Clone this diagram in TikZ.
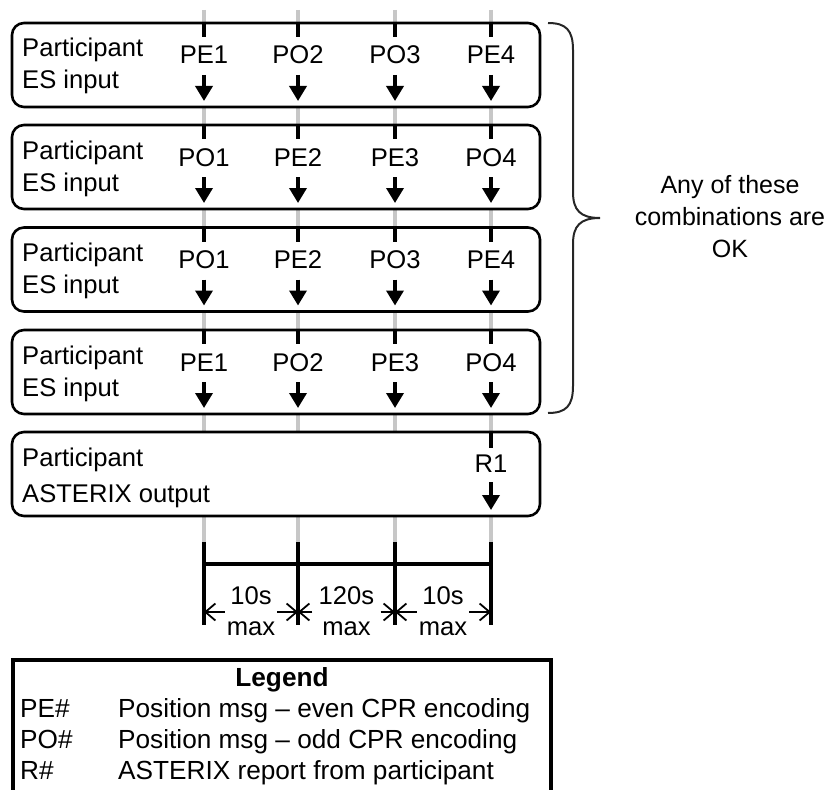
\documentclass[tikz,border=0pt]{standalone}
\usepackage{fontspec}
\setmainfont{Liberation Sans}
\usetikzlibrary{arrows.meta}
\begin{document}
\begin{tikzpicture}[x=1pt,y=-1pt,
  lane/.style={draw=black!22, line width=4pt},
  rowbox/.style={draw=black, line width=2.6pt, rounded corners=12pt, fill=white},
  txt/.style={font=\fontsize{25.6}{30}\selectfont, inner sep=0pt, anchor=base west},
  msg/.style={font=\fontsize{25.6}{30}\selectfont, inner sep=0pt, anchor=base},
  legtxt/.style={font=\fontsize{26.2}{30}\selectfont, inner sep=0pt, anchor=base west},
  notetxt/.style={font=\fontsize{25}{30}\selectfont, inner sep=0pt, anchor=base},
  msgtick/.style={line width=3.5pt},
  msgarrow/.style={line width=3.5pt, -{Triangle[length=15pt,width=17pt]}},
  dimtick/.style={line width=4pt},
  dimarrow/.style={line width=1.8pt, -{Straight Barb[length=10pt,width=17pt]}},
  gap/.style={inner sep=0pt, minimum height=2pt},
  legendbox/.style={draw=black, line width=4pt},
  bracestyle/.style={draw=black!85, line width=2pt},
]
\useasboundingbox (0,0) rectangle (829,789);
\clip (0,0) rectangle (829,789);

% time lanes behind the boxes
\foreach \x [count=\j] in {204,298,395,491} {
  \coordinate (lanetop-\j) at (\x,10);
  \coordinate (lanebot-\j) at (\x,542);
  \draw[lane] (lanetop-\j) -- (lanebot-\j);
}

% participant ES input rows
\foreach \t/\a/\b/\c/\d [count=\i] in
  {23/PE1/PO2/PO3/PE4, 125/PO1/PE2/PE3/PO4, 227.5/PO1/PE2/PO3/PE4, 330/PE1/PO2/PE3/PO4} {
  \draw[rowbox] (12,\t) rectangle (540,\t+84);
  \node[txt] (part-\i) at (22,\t+34) {Participant};
  \node[txt] (kind-\i) at (22,\t+66) {ES input};
  \foreach \x/\lab [count=\j] in {204/\a, 298/\b, 395/\c, 491/\d} {
    \coordinate (ts-\i-\j) at (\x,\t);
    \coordinate (te-\i-\j) at (\x,\t+14);
    \coordinate (as-\i-\j) at (\x,\t+52);
    \coordinate (ae-\i-\j) at (\x,\t+78);
    \node[msg] (msg-\i-\j) at (\x,\t+41) {\lab};
    \draw[msgtick] (ts-\i-\j) -- (te-\i-\j);
    \draw[msgarrow] (as-\i-\j) -- (ae-\i-\j);
  }
}

% participant ASTERIX output row
\draw[rowbox] (12,432) rectangle (540,516);
\node[txt] (part-5) at (22,466) {Participant};
\node[txt] (kind-5) at (22,502) {ASTERIX output};
\coordinate (ts-5) at (491,432);
\coordinate (te-5) at (491,448);
\coordinate (as-5) at (491,482);
\coordinate (ae-5) at (491,510);
\node[msg] (msg-5) at (491,472) {R1};
\draw[msgtick] (ts-5) -- (te-5);
\draw[msgarrow] (as-5) -- (ae-5);

% brace and its note
\draw[bracestyle] (548,23) .. controls (566,23) and (573,30) .. (573,50)
  -- (573,192) .. controls (573,210) and (580,218) .. (600,218)
  .. controls (580,218) and (573,226) .. (573,244)
  -- (573,386) .. controls (573,406) and (566,413) .. (548,413);
\node[notetxt] (note1) at (730,193) {Any of these};
\node[notetxt] (note2) at (730,225) {combinations are};
\node[notetxt] (note3) at (730,257) {OK};

% timing scale
\foreach \x [count=\j] in {204,298,395,491} {
  \coordinate (tk-\j) at (\x,542);
  \coordinate (tb-\j) at (\x,625);
  \coordinate (ta-\j) at (\x,612);
  \draw[dimtick] (tk-\j) -- (tb-\j);
}
\coordinate (bar-l) at (202,564);
\coordinate (bar-r) at (493,564);
\draw[dimtick] (bar-l) -- (bar-r);

\foreach \m/\w/\top [count=\k] in {251/52/10s, 346.5/68/120s, 443/52/10s} {
  \node[gap, minimum width=\w pt] (g-\k) at (\m,612) {};
  \node[msg] (dt-\k) at (\m,604) {\top};
  \node[msg] (dm-\k) at (\m,635) {max};
}
\draw[dimarrow] (g-1.west) -- (ta-1);
\draw[dimarrow] (g-1.east) -- (ta-2);
\draw[dimarrow] (g-2.west) -- (ta-2);
\draw[dimarrow] (g-2.east) -- (ta-3);
\draw[dimarrow] (g-3.west) -- (ta-3);
\draw[dimarrow] (g-3.east) -- (ta-4);

% legend
\draw[legendbox] (13,800) -- (13,660) -- (551,660) -- (551,800);
\node[msg, font=\fontsize{26.2}{30}\selectfont\bfseries] (legend) at (282,686) {Legend};
\node[legtxt] (k1) at (20,717) {PE\#};
\node[legtxt] (v1) at (118,717) {Position msg – even CPR encoding};
\node[legtxt] (k2) at (20,748) {PO\#};
\node[legtxt] (v2) at (118,748) {Position msg – odd CPR encoding};
\node[legtxt] (k3) at (20,779) {R\#};
\node[legtxt] (v3) at (118,779) {ASTERIX report from participant};
\end{tikzpicture}
\end{document}
